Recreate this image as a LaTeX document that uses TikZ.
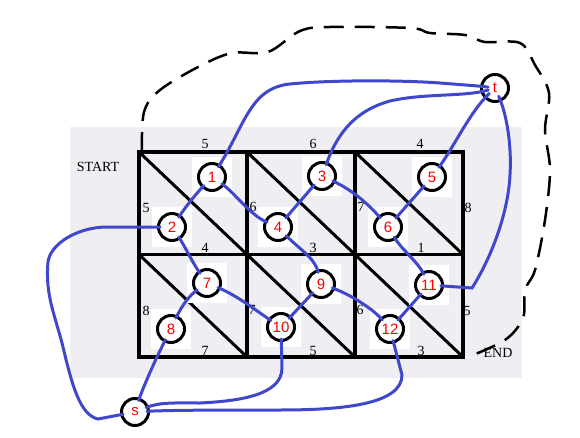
\documentclass[tikz,border=0pt]{standalone}
\usepackage{fontspec}
\setmainfont{Liberation Serif}
\newfontfamily\vertfont{Liberation Sans}
\usepackage{tikz}
\usetikzlibrary{backgrounds}
\definecolor{walkblue}{RGB}{63,72,204}
\definecolor{panel}{RGB}{239,239,243}

\begin{document}
\begin{tikzpicture}[
  x=1pt, y=-1pt,
  vert/.style={circle, draw=black, line width=3pt, minimum size=27pt,
    inner sep=0pt, text=red, font=\vertfont\fontsize{15}{15}\selectfont},
  walk/.style={draw=walkblue, line width=3pt, line cap=round,
    shorten <=-3pt, shorten >=-3pt},
  wt/.style={inner sep=0pt, font=\fontsize{14}{14}\selectfont},
  cell/.style={line width=3.5pt},
  rim/.style={line width=2.5pt, dash pattern=on 20pt off 11pt},
]
  \useasboundingbox (0,0) rectangle (580,438);

  % vertices
  \node[vert] (v1) at (212,177) {1};
  \node[vert] (v2) at (172,227) {2};
  \node[vert] (v3) at (322,176) {3};
  \node[vert] (v4) at (278,227) {4};
  \node[vert] (v5) at (432,177) {5};
  \node[vert] (v6) at (388,227) {6};
  \node[vert] (v7) at (207,283) {7};
  \node[vert] (v8) at (171,329) {8};
  \node[vert] (v9) at (321,284) {9};
  \node[vert] (v10) at (281,327) {10};
  \node[vert] (v11) at (429,285) {11};
  \node[vert] (v12) at (390,329) {12};
  \node[vert] (t) at (495,88) {t};
  \node[vert] (s) at (135,412) {s};

  \begin{scope}[on background layer]
    \fill[panel] (70,127) rectangle (522,378);
    % grid of cells
    \draw[cell] (139,152) rectangle (463,357);
    \foreach \x in {247,355} \draw[cell] (\x,152) -- (\x,357);
    \draw[cell] (139,254.5) -- (463,254.5);
    \foreach \x in {139,247,355}
      \foreach \y/\yy in {152/254.5,254.5/357}
        \draw[line width=3pt] (\x,\y) -- (\x+108,\yy);
    % weights
    \foreach \x/\y/\w [count=\i] in {205/144/5, 313/144/6, 420/144/4,
        146/208/5, 253/207/6, 361/207/7, 468/208/8,
        205/248/4, 313/248/3, 421/248/1,
        146/311/8, 252/310/7, 360/310/6, 467/311/5,
        205/351/7, 313/351/5, 421/351/3}
      \node[wt] (w\i) at (\x,\y) {\w};
    \node[wt] (start) at (98,167) {START};
    \node[wt] (end) at (498,353) {END};
    \foreach \v in {v1,v2,v3,v4,v5,v6,v7,v8,v9,v10,v11,v12}
      \fill[white] ([shift={(-20,-20)}]\v.center) rectangle +(40,40);
  \end{scope}

  % outer dashed loop
  \draw[rim] plot[smooth, tension=0.55] coordinates {(142,152) (144,112)
    (160,90) (200,66) (232,53) (268,52) (300,31) (330,27) (410,28)
    (430,33) (465,35) (485,42) (520,43) (535,65) (549,93) (545,130)
    (550,170) (545,220) (535,270) (525,290) (523,318) (505,340) (468,357)};

  % walks
  \draw[walk] (s) .. controls (142,390) and (155,360) .. (v8);
  \draw[walk] (v8) .. controls (182,305) and (190,295) .. (v7);
  \draw[walk] (v2) .. controls (186,248) and (192,262) .. (v7);
  \draw[walk] (v2) .. controls (187,205) and (195,195) .. (v1);
  \draw[walk, shorten >=-8pt] (v1) .. controls (245,125) and (250,88) .. (290,84)
    .. controls (330,80) and (400,80) .. (440,83)
    .. controls (465,85) and (480,86) .. (t);
  \draw[walk, shorten >=-8pt] (v3) .. controls (335,140) and (350,112) .. (390,101)
    .. controls (425,93) and (465,97) .. (t);
  \draw[walk, shorten >=-7pt] (v5) .. controls (455,145) and (470,112) .. (t);
  \draw[walk, shorten <=-6pt] (t) .. controls (505,110) and (512,140) .. (510,175)
    .. controls (508,215) and (490,260) .. (472,288) -- (v11);
  \draw[walk] (v3) .. controls (348,188) and (365,200) .. (v6);
  \draw[walk] (v5) -- (v6);
  \draw[walk] (v3) -- (v4);
  \draw[walk] (v1) .. controls (235,193) and (250,215) .. (v4);
  \draw[walk] (v4) .. controls (298,248) and (315,258) .. (v9);
  \draw[walk] (v6) .. controls (402,250) and (418,262) .. (v11);
  \draw[walk] (v9) -- (v10);
  \draw[walk] (v7) .. controls (238,296) and (255,310) .. (v10);
  \draw[walk] (v9) .. controls (352,295) and (374,310) .. (v12);
  \draw[walk] (v11) -- (v12);
  \draw[walk] (v10) -- (282,368) .. controls (282,395) and (240,401) .. (200,403)
    .. controls (175,403) and (160,402) .. (s);
  \draw[walk] (v12) -- (402,375) .. controls (402,405) and (340,410) .. (280,410)
    .. controls (230,410) and (170,410) .. (s);
  \draw[walk] (s) -- (98,419) .. controls (80,415) and (72,385) .. (63,347)
    .. controls (55,315) and (45,295) .. (48,262)
    .. controls (50,245) and (75,228) .. (105,227) -- (v2);
\end{tikzpicture}
\end{document}
